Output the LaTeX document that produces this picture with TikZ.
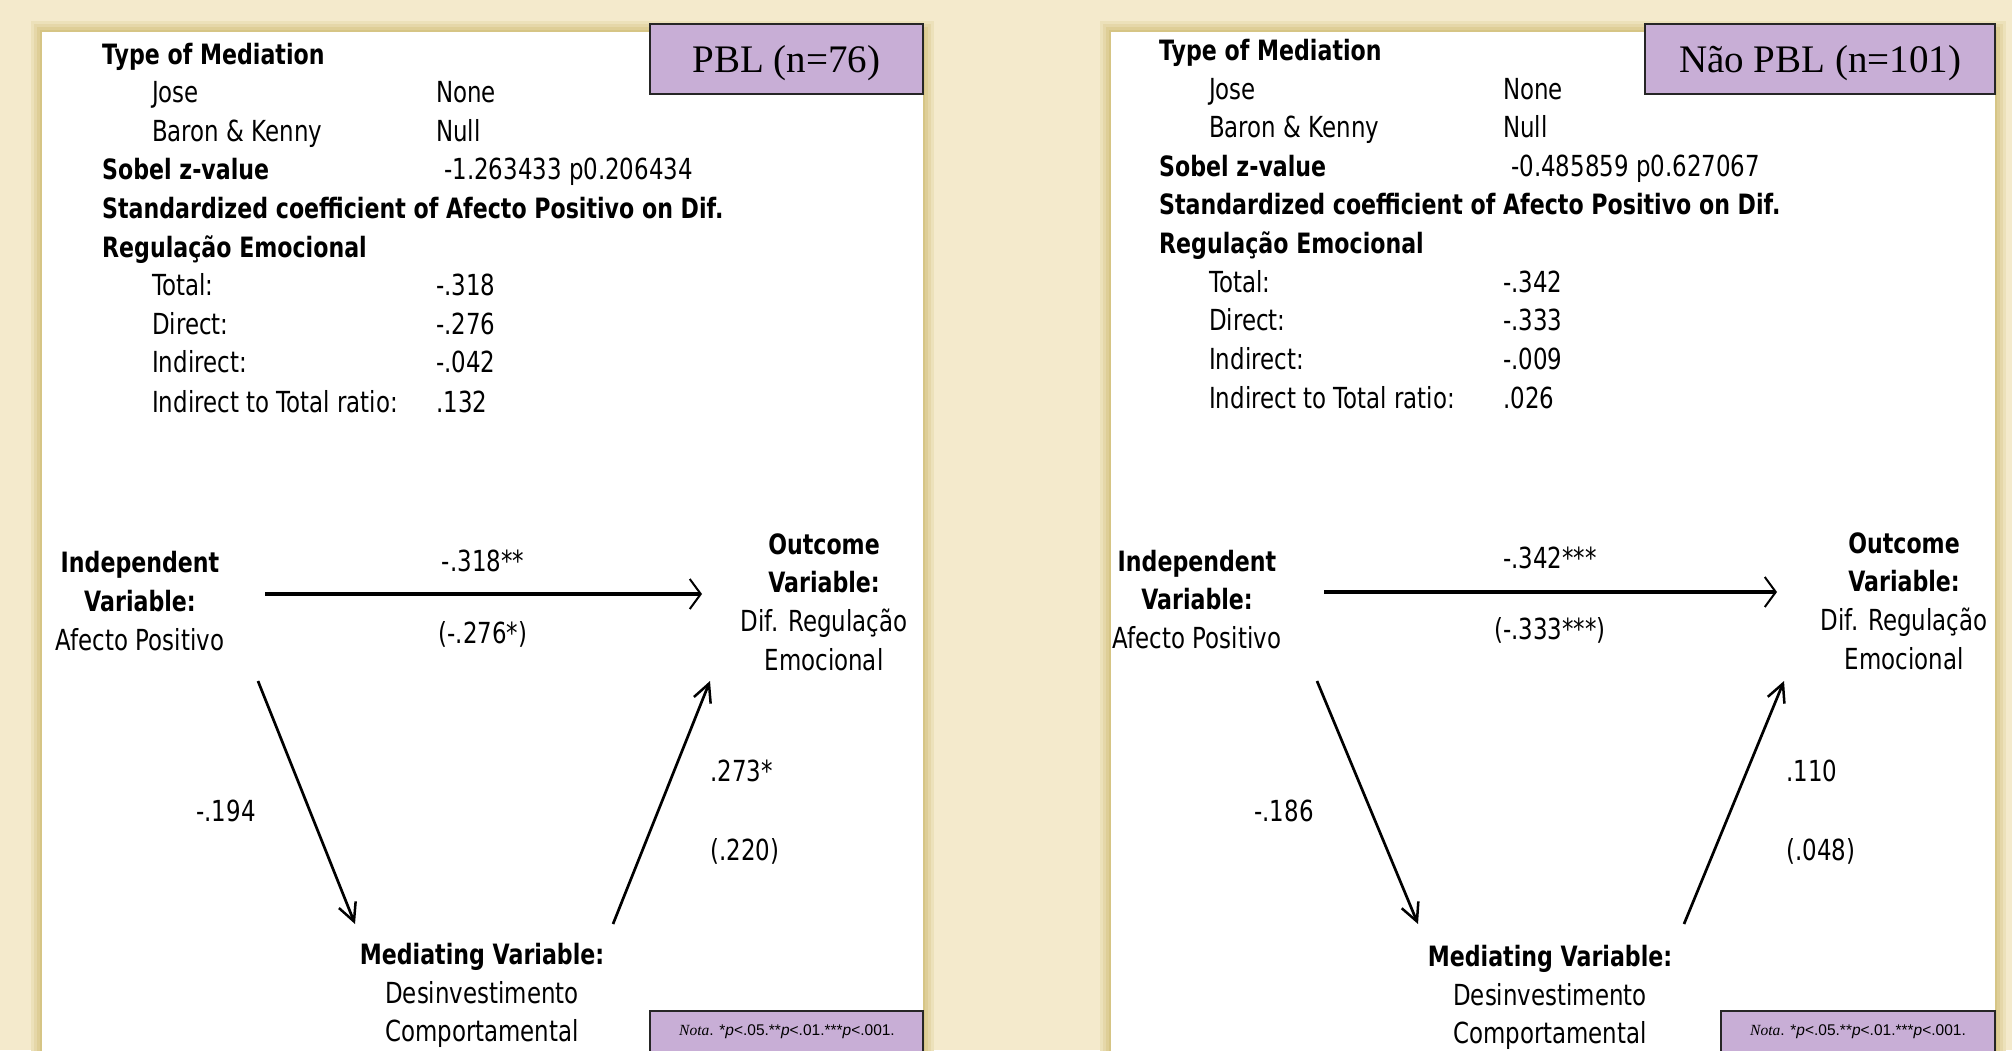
\documentclass[tikz,border=0pt]{standalone}
\usepackage{fontspec}
\usetikzlibrary{arrows.meta}
\newfontfamily\nf[FakeStretch=0.79]{DejaVu Sans}
\newfontfamily\tnr{Liberation Serif}
\newfontfamily\lsans{Liberation Sans}
\definecolor{bg}{HTML}{F4EACC}
\definecolor{shd}{HTML}{D6C585}
\definecolor{lav}{HTML}{C8AED6}
\tikzset{
  rg/.style={anchor=base west, inner sep=0pt, font=\nf\fontsize{29pt}{39pt}\selectfont},
  bl/.style={anchor=base west, inner sep=0pt, font=\nf\bfseries\fontsize{28pt}{39pt}\selectfont},
  num/.style={inner sep=0pt, font=\nf\fontsize{29pt}{39pt}\selectfont},
  vblock/.style={inner sep=0pt, align=center, font=\nf\fontsize{29pt}{38.7pt}\selectfont},
  tag/.style={draw=black!85, line width=2pt, fill=lav},
  tagtxt/.style={inner sep=0pt, font=\tnr\fontsize{39pt}{44pt}\selectfont},
  notatxt/.style={inner sep=0pt, font=\lsans\fontsize{15.5pt}{18pt}\selectfont},
  mainarrow/.style={line width=4.5pt, -{Straight Barb[length=11pt,width=30pt,line width=2pt]}},
  sidearrow/.style={line width=2.7pt, -{Straight Barb[length=18pt,width=18pt,line width=2.5pt]}},
}
\newcommand{\bx}[1]{{\bfseries\fontsize{28pt}{38.7pt}\selectfont #1}}
\begin{document}
\begin{tikzpicture}[x=1pt,y=-1pt]
\useasboundingbox (0,0) rectangle (2012,1050);
\fill[bg] (0,0) rectangle (2012,1050);
% panel shadows
\foreach \d/\p in {11/25,8/50,5/75,2/100}{
  \fill[shd!\p!bg] (42-\d,32-\d) rectangle (923+\d,1060);
  \fill[shd!\p!bg] (1111-\d,32-\d) rectangle (1995+\d,1060);
}
\fill[white] (42,32) rectangle (923,1060);
\fill[white] (1111,32) rectangle (1995,1060);

% ---------- left panel ----------
\draw[tag] (650,24) rectangle (923,94);
\node[tagtxt] (ltag) at (786.5,63) {PBL (n=76)};

\node[bl] (la1) at (102,64) {Type of Mediation};
\node[rg] (la2) at (152,102.6) {Jose};
\node[rg] (lb2) at (436,102.6) {None};
\node[rg] (la3) at (152,141.2) {Baron \& Kenny};
\node[rg] (lb3) at (436,141.2) {Null};
\node[bl] (la4) at (102,179.8) {Sobel z-value};
\node[rg] (lb4) at (444,179.8) {-1.263433 p0.206434};
\node[bl] (la5) at (102,218.4) {Standardized coefficient of Afecto Positivo on Dif.};
\node[bl] (la6) at (102,257) {Regulação Emocional};
\node[rg] (la7) at (152,295.6) {Total:};
\node[rg] (lb7) at (436,295.6) {-.318};
\node[rg] (la8) at (152,334.2) {Direct:};
\node[rg] (lb8) at (436,334.2) {-.276};
\node[rg] (la9) at (152,372.8) {Indirect:};
\node[rg] (lb9) at (436,372.8) {-.042};
\node[rg] (la10) at (152,412) {Indirect to Total ratio:};
\node[rg] (lb10) at (436,412) {.132};

\node[vblock] (liv) at (140,601) {\bx{Independent}\\\bx{Variable:}\\Afecto Positivo};
\node[vblock] (lov) at (824,602) {\bx{Outcome}\\\bx{Variable:}\\Dif. Regulação\\Emocional};
\node[vblock] (lmv) at (482,995.5) {\bx{Mediating Variable:}\\Desinvestimento\\Comportamental};

\coordinate (lh1) at (265,594);
\coordinate (lh2) at (702,594);
\coordinate (ld1) at (258,681);
\coordinate (ld2) at (355,924);
\coordinate (ld3) at (613,924);
\coordinate (ld4) at (710,681);
\draw[mainarrow] (lh1) -- (lh2);
\draw[sidearrow] (ld1) -- (ld2);
\draw[sidearrow] (ld3) -- (ld4);
\node[num] (lc1) at (483,561) {-.318**};
\node[num] (lc2) at (483,634) {(-.276*)};
\node[num] (lc3) at (226,811) {-.194};
\node[num,anchor=west] (lc4) at (710,771) {.273*};
\node[num,anchor=west] (lc5) at (710,851) {(.220)};

\draw[tag] (650,1011) rectangle (923,1062);
\node[notatxt] (lnota) at (787,1032) {{\tnr\itshape Nota}. *\textit{p}<.05.**\textit{p}<.01.***\textit{p}<.001.};

% ---------- right panel ----------
\draw[tag] (1645,24) rectangle (1995,94);
\node[tagtxt] (rtag) at (1820,63) {Não PBL (n=101)};

\node[bl] (ra1) at (1159,60.5) {Type of Mediation};
\node[rg] (ra2) at (1209,99.1) {Jose};
\node[rg] (rb2) at (1503,99.1) {None};
\node[rg] (ra3) at (1209,137.7) {Baron \& Kenny};
\node[rg] (rb3) at (1503,137.7) {Null};
\node[bl] (ra4) at (1159,176.3) {Sobel z-value};
\node[rg] (rb4) at (1511,176.3) {-0.485859 p0.627067};
\node[bl] (ra5) at (1159,214.9) {Standardized coefficient of Afecto Positivo on Dif.};
\node[bl] (ra6) at (1159,253.5) {Regulação Emocional};
\node[rg] (ra7) at (1209,292.1) {Total:};
\node[rg] (rb7) at (1503,292.1) {-.342};
\node[rg] (ra8) at (1209,330.7) {Direct:};
\node[rg] (rb8) at (1503,330.7) {-.333};
\node[rg] (ra9) at (1209,369.3) {Indirect:};
\node[rg] (rb9) at (1503,369.3) {-.009};
\node[rg] (ra10) at (1209,408.5) {Indirect to Total ratio:};
\node[rg] (rb10) at (1503,408.5) {.026};

\node[vblock] (riv) at (1197,599.5) {\bx{Independent}\\\bx{Variable:}\\Afecto Positivo};
\node[vblock] (rov) at (1904,601) {\bx{Outcome}\\\bx{Variable:}\\Dif. Regulação\\Emocional};
\node[vblock] (rmv) at (1550,997.5) {\bx{Mediating Variable:}\\Desinvestimento\\Comportamental};

\coordinate (rh1) at (1324,592);
\coordinate (rh2) at (1777,592);
\coordinate (rd1) at (1317,681);
\coordinate (rd2) at (1418,924);
\coordinate (rd3) at (1684,924);
\coordinate (rd4) at (1784,681);
\draw[mainarrow] (rh1) -- (rh2);
\draw[sidearrow] (rd1) -- (rd2);
\draw[sidearrow] (rd3) -- (rd4);
\node[num] (rc1) at (1550,558) {-.342***};
\node[num] (rc2) at (1550,630) {(-.333***)};
\node[num] (rc3) at (1284,811) {-.186};
\node[num,anchor=west] (rc4) at (1786,771) {.110};
\node[num,anchor=west] (rc5) at (1786,851) {(.048)};

\draw[tag] (1721,1011) rectangle (1995,1062);
\node[notatxt] (rnota) at (1858,1032) {{\tnr\itshape Nota}. *\textit{p}<.05.**\textit{p}<.01.***\textit{p}<.001.};
\end{tikzpicture}
\end{document}
